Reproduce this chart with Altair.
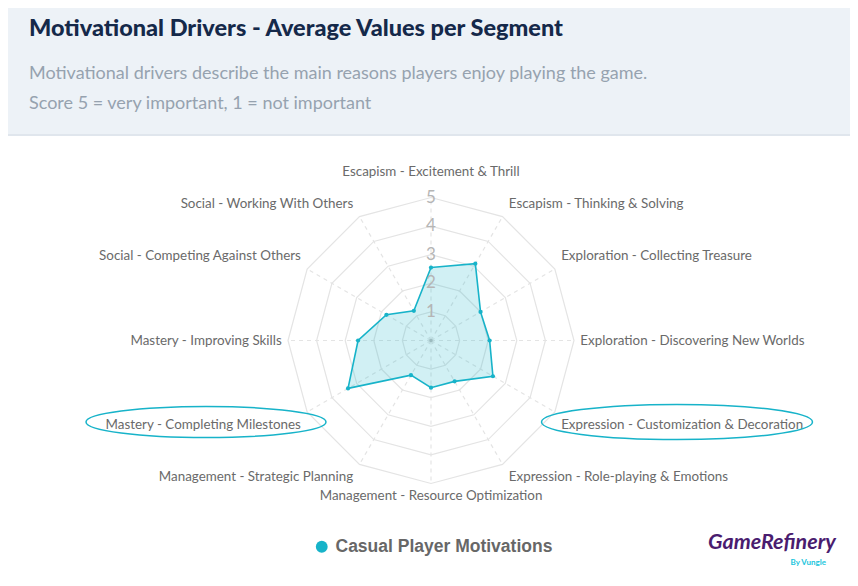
import altair as alt
import pandas as pd

# ---------------- data ----------------
categories = [
    "Escapism - Excitement & Thrill",
    "Escapism - Thinking & Solving",
    "Exploration - Collecting Treasure",
    "Exploration - Discovering New Worlds",
    "Expression - Customization & Decoration",
    "Expression - Role-playing & Emotions",
    "Management - Resource Optimization",
    "Management - Strategic Planning",
    "Mastery - Completing Milestones",
    "Mastery - Improving Skills",
    "Social - Competing Against Others",
    "Social - Working With Others",
]
values = [2.55, 3.1, 2.0, 2.05, 2.5, 1.65, 1.65, 1.4, 3.35, 2.55, 1.8, 1.2]
series_name = "Casual Player Motivations"
ring_levels = [1, 2, 3, 4, 5]
title_text = "Motivational Drivers - Average Values per Segment"
subtitle_lines = [
    "Motivational drivers describe the main reasons players enjoy playing the game.",
    "Score 5 = very important, 1 = not important",
]
logo_text = "GameRefinery"
logo_sub = "By Vungle"

# ---------------- styling / layout ----------------
W, H = 842, 570
UNIT = 28.6          # px per score unit
CX, CY = 423.0, 332.5
XDOM = [-CX / UNIT, (W - CX) / UNIT]
YDOM = [-(H - CY) / UNIT, CY / UNIT]
TEAL = "#17b3c9"
GRID = "#e4e4e4"
LABEL_COLOR = "#6a6a6a"
FONT = "Lato"

n = len(categories)
radar = pd.DataFrame({"idx": list(range(n)), "category": categories,
                      "value": values, "series": [series_name] * n})
grid = pd.DataFrame({"ring": [r for r in ring_levels for _ in range(n)],
                     "idx": [i for _ in ring_levels for i in range(n)]})
spokes = pd.DataFrame({"idx": list(range(n)), "category": categories})
ticks = pd.DataFrame({"ring": ring_levels, "label": [str(r) for r in ring_levels]})
one = pd.DataFrame({"k": [0]})

THETA = f"datum.idx * 2 * PI / {n}"
xs = alt.Scale(domain=XDOM, nice=False, zero=False)
ys = alt.Scale(domain=YDOM, nice=False, zero=False)


def X(field):
    return alt.X(field, type="quantitative", scale=xs, axis=None)


def Y(field):
    return alt.Y(field, type="quantitative", scale=ys, axis=None)


# header
header_bg = alt.Chart(one).mark_rect(color="#edf2f7").encode(
    x=alt.value(0), x2=alt.value(W), y=alt.value(0), y2=alt.value(126))
header_line = alt.Chart(one).mark_rule(color="#e0e6ed", strokeWidth=2).encode(
    x=alt.value(0), x2=alt.value(W), y=alt.value(127))
title = alt.Chart(one).mark_text(
    text=title_text, font=FONT, fontSize=23.5, fontWeight=900, color="#15294a",
    align="left", baseline="alphabetic").encode(x=alt.value(21), y=alt.value(28))
sub1 = alt.Chart(one).mark_text(
    text=subtitle_lines[0], font=FONT, fontSize=18, color="#96a2af",
    align="left", baseline="alphabetic").encode(x=alt.value(21), y=alt.value(71))
sub2 = alt.Chart(one).mark_text(
    text=subtitle_lines[1], font=FONT, fontSize=18, color="#96a2af",
    align="left", baseline="alphabetic").encode(x=alt.value(21), y=alt.value(101))

# grid rings
rings = alt.Chart(grid).transform_calculate(
    gx=f"datum.ring * sin({THETA})", gy=f"datum.ring * cos({THETA})"
).mark_line(interpolate="linear-closed", color=GRID, strokeWidth=1.2).encode(
    x=X("gx"), y=Y("gy"), detail="ring:N", order="idx:Q")

spoke_lines = alt.Chart(spokes).transform_calculate(
    sx=f"5 * sin({THETA})", sy=f"5 * cos({THETA})", zx="0", zy="0"
).mark_rule(color=GRID, strokeWidth=1.2, strokeDash=[4, 4]).encode(
    x=X("zx"), y=Y("zy"), x2="sx:Q", y2="sy:Q")

center_dot = alt.Chart(one).transform_calculate(zx="0", zy="0").mark_circle(
    color="#bdbdbd", size=12, opacity=1).encode(x=X("zx"), y=Y("zy"))

# radar polygon
poly = alt.Chart(radar).transform_calculate(
    px=f"datum.value * sin({THETA})", py=f"datum.value * cos({THETA})"
).mark_line(interpolate="linear-closed", filled=True, fill=TEAL, fillOpacity=0.2,
            stroke=TEAL, strokeWidth=1.6).encode(x=X("px"), y=Y("py"), order="idx:Q")

pts = alt.Chart(radar).transform_calculate(
    px=f"datum.value * sin({THETA})", py=f"datum.value * cos({THETA})"
).mark_circle(size=18, opacity=1).encode(
    x=X("px"), y=Y("py"),
    color=alt.Color("series:N", scale=alt.Scale(domain=[series_name], range=[TEAL]),
                    legend=alt.Legend(
                        title=None, orient="none", legendX=305, legendY=530,
                        symbolType="circle", symbolSize=140, symbolStrokeWidth=0,
                        symbolOpacity=1, padding=0, labelOffset=5, labelLimit=0,
                        labelFont="Liberation Sans", labelFontSize=17.5,
                        labelFontWeight="bold", labelColor="#676767")))

# tick labels 1..5
tick_text = alt.Chart(ticks).transform_calculate(zx="0").mark_text(
    font=FONT, fontSize=17, color="#b5b5b5", align="center", baseline="middle"
).encode(x=X("zx"), y=Y("ring"), text="label:N")

# category labels
lab_base = alt.Chart(spokes).transform_calculate(
    s=f"sin({THETA})", c=f"cos({THETA})"
).transform_calculate(
    side="abs(datum.s) < 0.01 ? 'c' : (datum.s > 0 ? 'r' : 'l')",
    lx="5 * datum.s + (abs(datum.s) < 0.01 ? 0 : (datum.s > 0 ? 0.22 : -0.22))",
    ly="5 * datum.c + (abs(datum.c) < 0.01 ? 0 : (datum.c > 0 ? 0.45 : -0.45)) + (datum.c > 0.99 ? 0.43 : 0)",
)
lab_kw = dict(font=FONT, fontSize=13.4, color=LABEL_COLOR, baseline="middle")
lab_r = lab_base.transform_filter("datum.side == 'r'").mark_text(align="left", **lab_kw).encode(
    x=X("lx"), y=Y("ly"), text="category:N")
lab_l = lab_base.transform_filter("datum.side == 'l'").mark_text(align="right", **lab_kw).encode(
    x=X("lx"), y=Y("ly"), text="category:N")
lab_c = lab_base.transform_filter("datum.side == 'c'").mark_text(align="center", **lab_kw).encode(
    x=X("lx"), y=Y("ly"), text="category:N")

# highlight ellipses around two labels
ELLIPSE = "M-1,0A1,0.13,0,1,1,1,0A1,0.13,0,1,1,-1,0Z"
ell1 = alt.Chart(one).mark_point(shape=ELLIPSE, size=240 ** 2, filled=False,
                                 stroke=TEAL, strokeWidth=1.5, opacity=1).encode(
    x=alt.value(198), y=alt.value(414))
ell2 = alt.Chart(one).mark_point(shape=ELLIPSE, size=271 ** 2, filled=False,
                                 stroke=TEAL, strokeWidth=1.5, opacity=1).encode(
    x=alt.value(669), y=alt.value(414))

# logo
logo = alt.Chart(one).mark_text(
    text=logo_text, font=FONT, fontSize=21.5, fontWeight="bold", fontStyle="italic",
    color="#4a1c6f", align="left", baseline="alphabetic").encode(
    x=alt.value(700), y=alt.value(541))
logo2 = alt.Chart(one).mark_text(
    text=logo_sub, font=FONT, fontSize=8, fontWeight="bold", color="#19c5dc",
    align="right", baseline="alphabetic").encode(x=alt.value(818), y=alt.value(557))

chart = alt.layer(
    header_bg, header_line, title, sub1, sub2,
    rings, spoke_lines, center_dot, poly, pts, tick_text,
    lab_r, lab_l, lab_c, ell1, ell2, logo, logo2,
).properties(
    width=W, height=H, padding=0, autosize=alt.AutoSizeParams(type="none"),
    background="white",
).configure_view(stroke=None)

chart.save("out.html", embed_options={"renderer": "svg", "actions": False})
